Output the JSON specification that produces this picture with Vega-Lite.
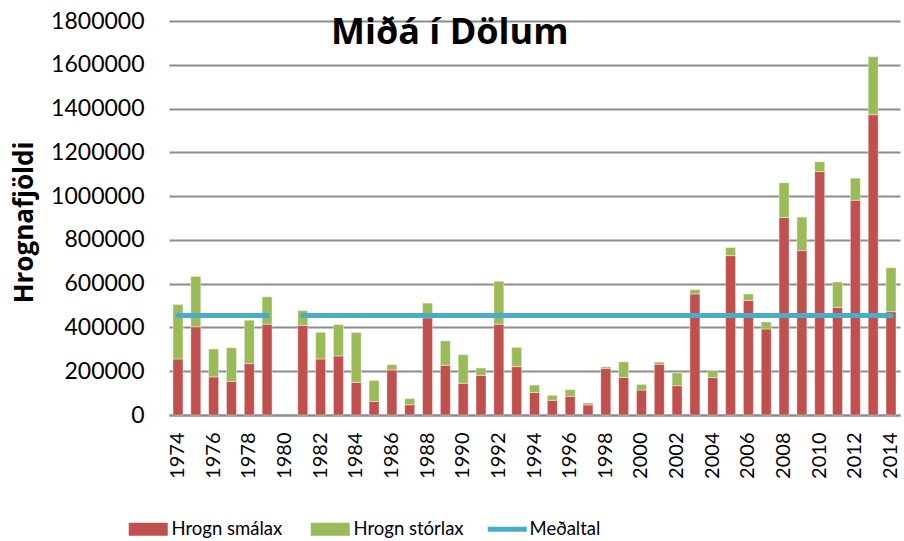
{
  "$schema": "https://vega.github.io/schema/vega-lite/v6.json",
  "width": 731,
  "height": 394,
  "autosize": "none",
  "padding": {"left": 169, "top": 21, "right": 4, "bottom": 126},
  "background": "white",
  "title": {
    "text": "Miðá í Dölum",
    "anchor": "start",
    "frame": "group",
    "offset": 0,
    "dx": 162,
    "dy": 70,
    "baseline": "alphabetic",
    "font": "Open Sans",
    "fontSize": 36,
    "fontWeight": "bold",
    "color": "#000000"
  },
  "datasets": {
    "bars": [
      {"year": 1974, "series": "Hrogn smálax", "value": 256000}, {"year": 1974, "series": "Hrogn stórlax", "value": 249000},
      {"year": 1975, "series": "Hrogn smálax", "value": 403000}, {"year": 1975, "series": "Hrogn stórlax", "value": 230000},
      {"year": 1976, "series": "Hrogn smálax", "value": 174000}, {"year": 1976, "series": "Hrogn stórlax", "value": 128000},
      {"year": 1977, "series": "Hrogn smálax", "value": 154000}, {"year": 1977, "series": "Hrogn stórlax", "value": 153000},
      {"year": 1978, "series": "Hrogn smálax", "value": 235000}, {"year": 1978, "series": "Hrogn stórlax", "value": 198000},
      {"year": 1979, "series": "Hrogn smálax", "value": 415000}, {"year": 1979, "series": "Hrogn stórlax", "value": 125000},
      {"year": 1981, "series": "Hrogn smálax", "value": 409000}, {"year": 1981, "series": "Hrogn stórlax", "value": 68000},
      {"year": 1982, "series": "Hrogn smálax", "value": 256000}, {"year": 1982, "series": "Hrogn stórlax", "value": 122000},
      {"year": 1983, "series": "Hrogn smálax", "value": 270000}, {"year": 1983, "series": "Hrogn stórlax", "value": 143000},
      {"year": 1984, "series": "Hrogn smálax", "value": 149000}, {"year": 1984, "series": "Hrogn stórlax", "value": 228000},
      {"year": 1985, "series": "Hrogn smálax", "value": 62000}, {"year": 1985, "series": "Hrogn stórlax", "value": 96000},
      {"year": 1986, "series": "Hrogn smálax", "value": 206000}, {"year": 1986, "series": "Hrogn stórlax", "value": 24000},
      {"year": 1987, "series": "Hrogn smálax", "value": 47000}, {"year": 1987, "series": "Hrogn stórlax", "value": 28000},
      {"year": 1988, "series": "Hrogn smálax", "value": 444000}, {"year": 1988, "series": "Hrogn stórlax", "value": 67000},
      {"year": 1989, "series": "Hrogn smálax", "value": 227000}, {"year": 1989, "series": "Hrogn stórlax", "value": 112000},
      {"year": 1990, "series": "Hrogn smálax", "value": 145000}, {"year": 1990, "series": "Hrogn stórlax", "value": 131000},
      {"year": 1991, "series": "Hrogn smálax", "value": 181000}, {"year": 1991, "series": "Hrogn stórlax", "value": 34000},
      {"year": 1992, "series": "Hrogn smálax", "value": 415000}, {"year": 1992, "series": "Hrogn stórlax", "value": 196000},
      {"year": 1993, "series": "Hrogn smálax", "value": 221000}, {"year": 1993, "series": "Hrogn stórlax", "value": 88000},
      {"year": 1994, "series": "Hrogn smálax", "value": 103000}, {"year": 1994, "series": "Hrogn stórlax", "value": 34000},
      {"year": 1995, "series": "Hrogn smálax", "value": 67000}, {"year": 1995, "series": "Hrogn stórlax", "value": 23000},
      {"year": 1996, "series": "Hrogn smálax", "value": 85000}, {"year": 1996, "series": "Hrogn stórlax", "value": 31000},
      {"year": 1997, "series": "Hrogn smálax", "value": 46000}, {"year": 1997, "series": "Hrogn stórlax", "value": 9000},
      {"year": 1998, "series": "Hrogn smálax", "value": 213000}, {"year": 1998, "series": "Hrogn stórlax", "value": 7000},
      {"year": 1999, "series": "Hrogn smálax", "value": 172000}, {"year": 1999, "series": "Hrogn stórlax", "value": 71000},
      {"year": 2000, "series": "Hrogn smálax", "value": 114000}, {"year": 2000, "series": "Hrogn stórlax", "value": 26000},
      {"year": 2001, "series": "Hrogn smálax", "value": 232000}, {"year": 2001, "series": "Hrogn stórlax", "value": 10000},
      {"year": 2002, "series": "Hrogn smálax", "value": 134000}, {"year": 2002, "series": "Hrogn stórlax", "value": 58000},
      {"year": 2003, "series": "Hrogn smálax", "value": 553000}, {"year": 2003, "series": "Hrogn stórlax", "value": 20000},
      {"year": 2004, "series": "Hrogn smálax", "value": 171000}, {"year": 2004, "series": "Hrogn stórlax", "value": 32000},
      {"year": 2005, "series": "Hrogn smálax", "value": 728000}, {"year": 2005, "series": "Hrogn stórlax", "value": 37000},
      {"year": 2006, "series": "Hrogn smálax", "value": 523000}, {"year": 2006, "series": "Hrogn stórlax", "value": 30000},
      {"year": 2007, "series": "Hrogn smálax", "value": 393000}, {"year": 2007, "series": "Hrogn stórlax", "value": 32000},
      {"year": 2008, "series": "Hrogn smálax", "value": 902000}, {"year": 2008, "series": "Hrogn stórlax", "value": 159000},
      {"year": 2009, "series": "Hrogn smálax", "value": 751000}, {"year": 2009, "series": "Hrogn stórlax", "value": 153000},
      {"year": 2010, "series": "Hrogn smálax", "value": 1112000}, {"year": 2010, "series": "Hrogn stórlax", "value": 45000},
      {"year": 2011, "series": "Hrogn smálax", "value": 491000}, {"year": 2011, "series": "Hrogn stórlax", "value": 117000},
      {"year": 2012, "series": "Hrogn smálax", "value": 981000}, {"year": 2012, "series": "Hrogn stórlax", "value": 101000},
      {"year": 2013, "series": "Hrogn smálax", "value": 1372000}, {"year": 2013, "series": "Hrogn stórlax", "value": 265000},
      {"year": 2014, "series": "Hrogn smálax", "value": 472000}, {"year": 2014, "series": "Hrogn stórlax", "value": 201000}
    ],
    "avg": [
      {"year": 1974, "seg": "a", "series": "Meðaltal", "value": 454000},
      {"year": 1979, "seg": "a", "series": "Meðaltal", "value": 454000},
      {"year": 1981, "seg": "b", "series": "Meðaltal", "value": 454000},
      {"year": 2014, "seg": "b", "series": "Meðaltal", "value": 454000}
    ]
  },
  "encoding": {
    "x": {
      "field": "year",
      "type": "ordinal",
      "scale": {
        "domain": [1974,1975,1976,1977,1978,1979,1980,1981,1982,1983,1984,1985,1986,1987,1988,1989,1990,1991,1992,1993,1994,1995,1996,1997,1998,1999,2000,2001,2002,2003,2004,2005,2006,2007,2008,2009,2010,2011,2012,2013,2014],
        "paddingInner": 0.44,
        "paddingOuter": 0.224
      },
      "axis": {
        "title": null,
        "values": [1974,1976,1978,1980,1982,1984,1986,1988,1990,1992,1994,1996,1998,2000,2002,2004,2006,2008,2010,2012,2014],
        "labelAngle": -90,
        "labelFont": "Lato",
        "labelFontSize": 20,
        "labelColor": "#000000",
        "labelPadding": 17,
        "ticks": false,
        "domainColor": "#8c8c8c",
        "domainWidth": 2,
        "grid": false
      }
    },
    "y": {
      "field": "value",
      "type": "quantitative",
      "scale": {"domain": [0, 1800000], "nice": false},
      "axis": {
        "title": "Hrognafjöldi",
        "titleFont": "Open Sans",
        "titleFontSize": 26,
        "titleFontWeight": "bold",
        "titleColor": "#000000",
        "titleAngle": -90,
        "titleX": -137,
        "titleY": 201,
        "titleAlign": "center",
        "titleBaseline": "alphabetic",
        "values": [0,200000,400000,600000,800000,1000000,1200000,1400000,1600000,1800000],
        "format": "d",
        "labelFont": "Lato",
        "labelFontSize": 23,
        "labelColor": "#000000",
        "labelPadding": 25,
        "ticks": false,
        "domain": false,
        "grid": true,
        "gridColor": "#8c8c8c",
        "gridWidth": 2
      }
    }
  },
  "layer": [
    {
      "data": {"name": "bars"},
      "mark": {"type": "bar", "stroke": "#ffffff", "strokeOpacity": 0.5, "strokeWidth": 0.8},
      "encoding": {
        "color": {
          "field": "series",
          "type": "nominal",
          "scale": {"domain": ["Hrogn smálax", "Hrogn stórlax"], "range": ["#C0504D", "#9BBB59"]},
          "legend": {
            "title": null,
            "orient": "none",
            "legendX": -43,
            "legendY": 499,
            "direction": "horizontal",
            "gridAlign": "none",
            "symbolType": "M-1,-1H5V1H-1Z",
            "symbolSize": 169,
            "symbolStrokeWidth": 0,
            "symbolOpacity": 1,
            "symbolOffset": 0,
            "labelOffset": 27,
            "labelFont": "Lato",
            "labelFontSize": 18.5,
            "labelColor": "#000000",
            "columnPadding": 25
          }
        },
        "order": {"field": "series", "sort": "ascending"}
      }
    },
    {
      "data": {"name": "avg"},
      "mark": {"type": "line", "strokeWidth": 5, "strokeCap": "round"},
      "encoding": {
        "detail": {"field": "seg"},
        "stroke": {
          "field": "series",
          "type": "nominal",
          "scale": {"domain": ["Meðaltal"], "range": ["#4BACC6"]},
          "legend": {
            "title": null,
            "orient": "none",
            "legendX": 316,
            "legendY": 499,
            "symbolType": "M-1,0H5",
            "symbolSize": 169,
            "symbolStrokeWidth": 5,
            "symbolOpacity": 1,
            "symbolOffset": 0,
            "labelOffset": 26,
            "labelFont": "Lato",
            "labelFontSize": 18.5,
            "labelColor": "#000000"
          }
        }
      }
    }
  ],
  "config": {
    "view": {"stroke": null}
  }
}
